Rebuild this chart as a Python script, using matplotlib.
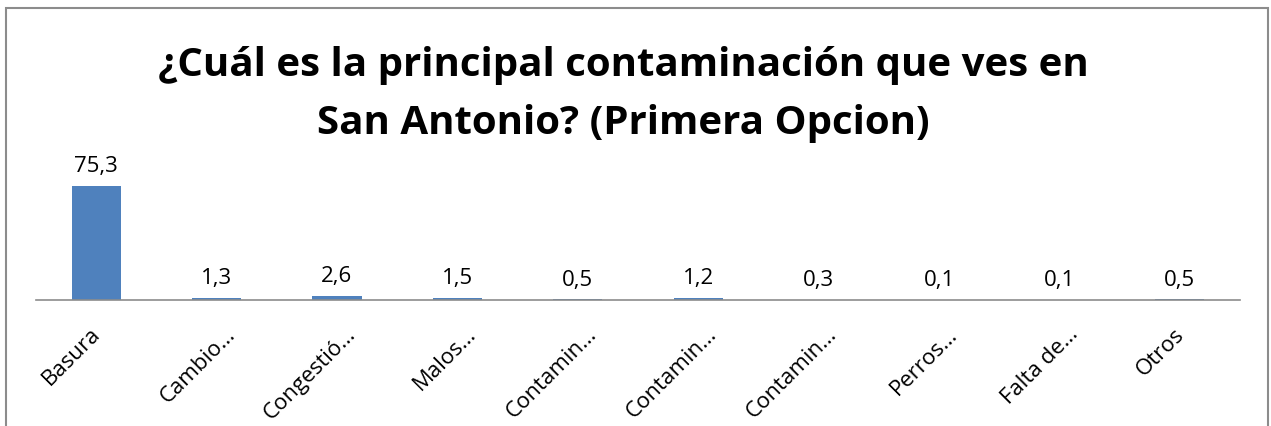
import matplotlib.pyplot as plt
import matplotlib.transforms as mtransforms
from matplotlib.patches import Rectangle

categorias = ["Basura", "Cambio…", "Congestió…", "Malos…", "Contamin…",
              "Contamin…", "Contamin…", "Perros…", "Falta de…", "Otros"]
porcentajes = [75.3, 1.3, 2.6, 1.5, 0.5, 1.2, 0.3, 0.1, 0.1, 0.5]
titulo = ["¿Cuál es la principal contaminación que ves en",
          "San Antonio? (Primera Opcion)"]

W, H = 1271, 427
fig = plt.figure(figsize=(W / 100, H / 100), dpi=100)
fig.patch.set_facecolor("white")

# chart border (bottom edge falls outside the image)
fig.patches.append(Rectangle((6 / W, -0.05), (1268 - 6) / W, 1.05 - 9 / H,
                             transform=fig.transFigure, fill=False,
                             edgecolor="#8c8c8c", linewidth=1.5))

ax = fig.add_axes([36 / W, (H - 301) / H, (1240 - 36) / W, 121 / H])
x = range(len(categorias))
ax.bar(x, porcentajes, width=0.41, color="#4f81bd")
ax.set_xlim(-0.5, len(categorias) - 0.5)
ax.set_ylim(0, 80)

for xi, v in zip(x, porcentajes):
    ax.annotate(f"{v:.1f}".replace(".", ","), (xi, v), xytext=(0, 7),
                textcoords="offset points", ha="center", va="bottom",
                fontsize=16, family="Open Sans")

ax.set_xticks(list(x))
ax.set_xticklabels(categorias, rotation=45, ha="right", rotation_mode="anchor",
                   fontsize=16, family="Open Sans")
ax.tick_params(axis="x", length=0, pad=16.5)
# truncated names sit a little further right than whole ones
for lbl in ax.get_xticklabels():
    dx = 8 if lbl.get_text().endswith("…") else -6
    shift = mtransforms.ScaledTranslation(dx / 100, 0, fig.dpi_scale_trans)
    lbl.set_transform(lbl.get_transform() + shift)
ax.set_yticks([])
for s in ["top", "left", "right"]:
    ax.spines[s].set_visible(False)
ax.spines["bottom"].set_color("#8c8c8c")
ax.spines["bottom"].set_linewidth(1.2)
ax.patch.set_alpha(0)

for linea, base in zip(titulo, [76, 134]):
    fig.text(623 / W, 1 - base / H, linea, ha="center", va="baseline",
             fontsize=29, fontweight="bold", family="Open Sans")

fig.savefig("out.png", dpi=100)
